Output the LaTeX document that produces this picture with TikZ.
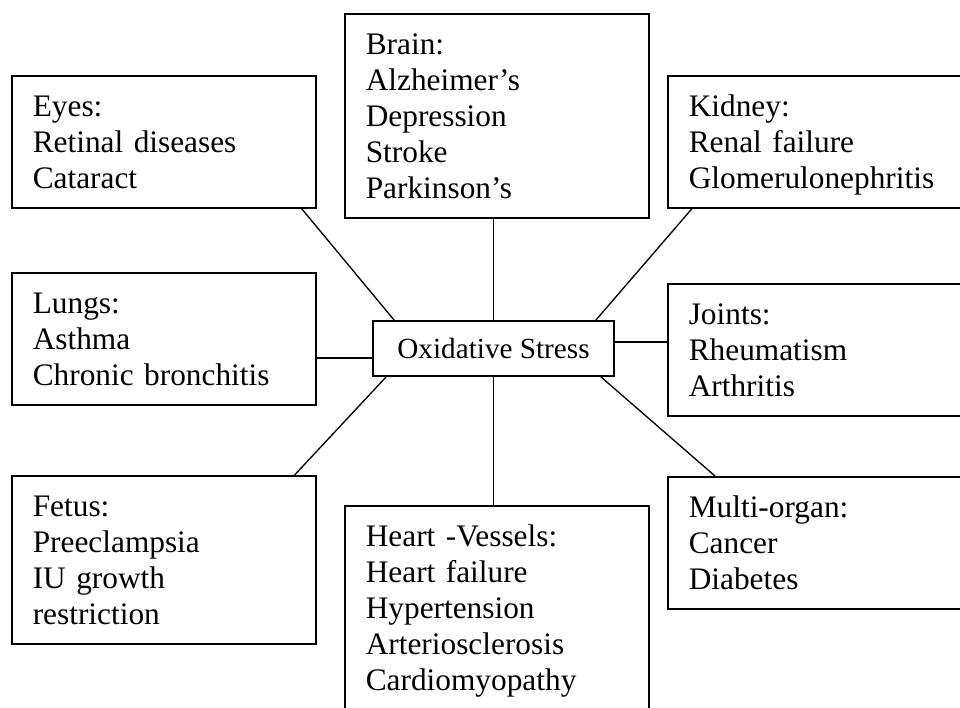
\documentclass[tikz,border=0pt]{standalone}
\usepackage{fontspec}
\setmainfont{Liberation Serif}
\newcommand\rowstrut{\rule[-5.25pt]{0pt}{27pt}}
\tikzset{
  organ/.style={draw,line width=1.2pt,anchor=north west,text width=196.5pt,
    inner xsep=15.75pt,inner ysep=9pt,align=left,
    font=\fontsize{23.5}{27}\selectfont,
    execute at begin node=\rowstrut,execute at end node=\rowstrut},
  hub/.style={draw,line width=1.2pt,minimum width=180.75pt,minimum height=41.25pt,
    inner sep=0pt,font=\fontsize{21.9}{26}\selectfont},
  spoke/.style={line width=1pt}
}

\begin{document}
\begin{tikzpicture}[x=0.75pt,y=-0.75pt]
  \useasboundingbox (0,0) rectangle (960,707);
  \clip (0,0) rectangle (960,707);
  \node[hub] (stress) at (493.5,348.5) {Oxidative Stress};
  \node[organ] (eyes) at (11,75) {Eyes:\\Retinal diseases\\Cataract};
  \node[organ] (brain) at (344,13) {Brain:\\Alzheimer’s\\Depression\\Stroke\\Parkinson’s};
  \node[organ] (kidney) at (667,75) {Kidney:\\Renal failure\\Glomerulonephritis};
  \node[organ] (lungs) at (11,272) {Lungs:\\Asthma\\Chronic bronchitis};
  \node[organ] (joints) at (667,283) {Joints:\\Rheumatism\\Arthritis};
  \node[organ] (fetus) at (11,475) {Fetus:\\Preeclampsia\\IU growth\\restriction};
  \node[organ] (heart) at (344,505) {Heart -Vessels:\\Heart failure\\Hypertension\\Arteriosclerosis\\Cardiomyopathy};
  \node[organ] (multi) at (667,476) {Multi-organ:\\Cancer\\Diabetes};
  \coordinate (lungsport) at ([yshift=-7pt]stress.west);
  \coordinate (jointsport) at ([yshift=5pt]stress.east);
  \draw[spoke] ([xshift=-11.25pt]eyes.south east) -- ([xshift=16.5pt]stress.north west);
  \draw[spoke] (stress.north) -- (stress.north |- brain.south);
  \draw[spoke] ([xshift=18.75pt]kidney.south west) -- ([xshift=-14.25pt]stress.north east);
  \draw[spoke] (lungsport) -- (lungsport -| lungs.east);
  \draw[spoke] (jointsport) -- (jointsport -| joints.west);
  \draw[spoke] ([xshift=10.5pt]stress.south west) -- ([xshift=-16.5pt]fetus.north east);
  \draw[spoke] (stress.south) -- (stress.south |- heart.north);
  \draw[spoke] ([xshift=-10.5pt]stress.south east) -- ([xshift=36pt]multi.north west);
\end{tikzpicture}
\end{document}
